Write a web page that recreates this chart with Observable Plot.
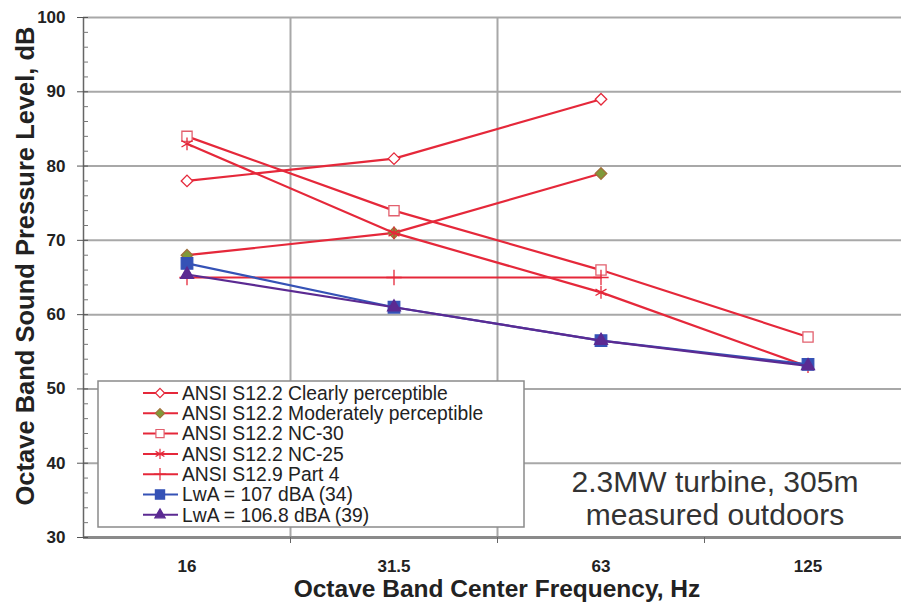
<!DOCTYPE html>
<html><head><meta charset="utf-8">
<script src="https://cdn.jsdelivr.net/npm/d3@7"></script>
<script src="https://cdn.jsdelivr.net/npm/@observablehq/plot@0.6"></script>
<style>
html,body{margin:0;padding:0;background:#fff;}
#chart{width:901px;height:603px;overflow:hidden;}
</style></head><body><div id="chart"></div>
<script>
// ---- data ----
const frequencies = ["16", "31.5", "63", "125"];
const seriesNames = [
  "ANSI S12.2 Clearly perceptible",
  "ANSI S12.2 Moderately perceptible",
  "ANSI S12.2 NC-30",
  "ANSI S12.2 NC-25",
  "ANSI S12.9 Part 4",
  "LwA = 107 dBA (34)",
  "LwA = 106.8 dBA (39)"
];
const clearlyPerceptible    = [78, 81, 89, null];
const moderatelyPerceptible = [68, 71, 79, null];
const nc30                  = [84, 74, 66, 57];
const nc25                  = [83, 71, 63, 53];
const part4                 = [65, 65, 65, null];
const lwa107                = [66.9, 61.0, 56.5, 53.3];
const lwa1068               = [65.4, 61.0, 56.5, 53.1];
const yTicks = [30, 40, 50, 60, 70, 80, 90, 100];
const yGrid = [40, 50, 60, 70, 80, 90, 100];
const yMinor = [32,34,36,38,42,44,46,48,52,54,56,58,62,64,66,68,72,74,76,78,82,84,86,88,92,94,96,98];
const xBoundaries = [0.5, 1.5, 2.5];
const xGridlines = [0.5, 1.5];
const annotationLines = ["2.3MW turbine, 305m", "measured outdoors"];
const xTitle = "Octave Band Center Frequency, Hz";
const yTitle = "Octave Band Sound Pressure Level, dB";

// ---- styles ----
const RED = "#e5283a";
const series = [
  {name: seriesNames[0], values: clearlyPerceptible,    line: RED, symbol: "diamond2", fill: "white",   stroke: RED,       r: 5.2},
  {name: seriesNames[1], values: moderatelyPerceptible, line: RED, symbol: "diamond2", fill: "#7f9a3a", stroke: "#a0703a", r: 5.2},
  {name: seriesNames[2], values: nc30,                  line: RED, symbol: "square2",  fill: "white",   stroke: "#e2606e", r: 6.5},
  {name: seriesNames[3], values: nc25,                  line: RED, symbol: "asterisk", fill: "none",    stroke: RED,       r: 6},
  {name: seriesNames[4], values: part4,                 line: RED, symbol: "plus",     fill: "none",    stroke: RED,       r: 5},
  {name: seriesNames[5], values: lwa107,                line: "#3552b6", symbol: "square",   fill: "#3552b6", stroke: "#3552b6", r: 6.5},
  {name: seriesNames[6], values: lwa1068,               line: "#5b2a92", symbol: "triangle", fill: "#5b2a92", stroke: "#5b2a92", r: 4.8}
];
const rows = series.flatMap(s => s.values.map((v, i) => ({series: s.name, i, freq: frequencies[i], v})).filter(d => d.v != null));

const FONT = "'Liberation Sans', Arial, sans-serif";
const seriesMarks = series.flatMap(s => {
  const data = rows.filter(d => d.series === s.name);
  return [
    Plot.line(data, {x: "i", y: "v", stroke: s.line, strokeWidth: 2.2}),
    Plot.dot(data, {x: "i", y: "v", symbol: s.symbol, r: s.r, fill: s.fill, stroke: s.stroke, strokeWidth: 1.3})
  ];
});

const chart = Plot.plot({
  width: 901, height: 603,
  marginLeft: 83, marginTop: 17, marginBottom: 66, marginRight: 0,
  x: {type: "linear", domain: [-0.5, 3.5], range: [83, 911]},
  y: {domain: [30, 100]},
  style: {fontFamily: FONT, background: "white", color: "#222"},
  marks: [
    Plot.ruleY(yGrid, {stroke: "#a8a8a8", strokeWidth: 2}),
    Plot.ruleX(xGridlines, {stroke: "#a8a8a8", strokeWidth: 2}),
    Plot.ruleY([30], {stroke: "#8a8a8a", strokeWidth: 3}),
    Plot.ruleX([-0.5], {stroke: "#666", strokeWidth: 1.5}),
    Plot.axisY(yTicks, {tickSize: 6, tickPadding: 12, fontSize: 17, fontWeight: "bold", label: null, stroke: "#555"}),
    Plot.axisY(yTicks, {tickSize: -5, tickFormat: () => "", label: null, stroke: "#555"}),
    Plot.axisY(yMinor, {tickSize: -5, tickFormat: () => "", label: null, stroke: "#777"}),
    Plot.axisX([0, 1, 2, 3], {tickSize: 0, tickPadding: 22, tickFormat: i => frequencies[i], fontSize: 17, fontWeight: "bold", label: null}),
    Plot.axisX(xBoundaries, {tickSize: 6, tickFormat: () => "", label: null, stroke: "#666"}),
    ...seriesMarks
  ]
});
document.getElementById("chart").appendChild(chart);

// ---- titles, annotation, legend ----
const svg = d3.select(chart);
svg.append("text").attr("transform", "translate(34,266) rotate(-90)")
  .attr("text-anchor", "middle").attr("font-family", FONT).attr("font-weight", "bold")
  .attr("font-size", 25.5).attr("fill", "#222").text(yTitle);
svg.append("text").attr("x", 497).attr("y", 597)
  .attr("text-anchor", "middle").attr("font-family", FONT).attr("font-weight", "bold")
  .attr("font-size", 24.5).attr("fill", "#222").text(xTitle);
annotationLines.forEach((t, k) => {
  svg.append("text").attr("x", 715).attr("y", 492 + k * 33)
    .attr("text-anchor", "middle").attr("font-family", FONT)
    .attr("font-size", 30).attr("fill", "#333").text(t);
});

const symbolMap = {diamond2: d3.symbolDiamond2, diamond: d3.symbolDiamond, square2: d3.symbolSquare2,
  asterisk: d3.symbolAsterisk, plus: d3.symbolPlus, square: d3.symbolSquare, triangle: d3.symbolTriangle};
const lg = svg.append("g").attr("text-anchor", "start");
lg.append("rect").attr("x", 98).attr("y", 381).attr("width", 426).attr("height", 146)
  .attr("fill", "white").attr("stroke", "#8a8a8a").attr("stroke-width", 1.5);
series.forEach((s, k) => {
  const cy = 393 + k * 20.3;
  lg.append("line").attr("x1", 143).attr("x2", 178).attr("y1", cy).attr("y2", cy)
    .attr("stroke", s.line).attr("stroke-width", 2);
  const sz = Math.PI * (s.r * 0.8) ** 2;
  lg.append("path").attr("d", d3.symbol(symbolMap[s.symbol], sz)())
    .attr("transform", `translate(160,${cy})`)
    .attr("fill", s.fill).attr("stroke", s.stroke).attr("stroke-width", 1.2);
  lg.append("text").attr("x", 182).attr("y", cy).attr("dy", "0.35em")
    .attr("text-anchor", "start")
    .attr("font-family", FONT).attr("font-size", 19.3).attr("fill", "#222").text(s.name);
});
</script>
</body></html>
